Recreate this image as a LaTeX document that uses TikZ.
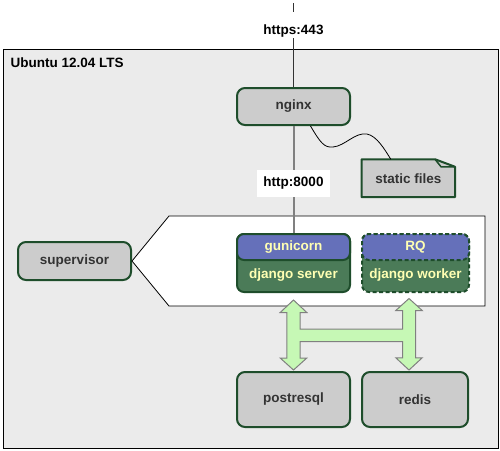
\documentclass[tikz,border=0pt]{standalone}
\usepackage{fontspec}
\setmainfont{Liberation Sans}
\definecolor{boxfill}{HTML}{CCCCCC}
\definecolor{boxborder}{HTML}{1E4D2B}
\definecolor{txtgray}{HTML}{333333}
\definecolor{blu}{HTML}{6570BA}
\definecolor{grn}{HTML}{4B7B58}
\definecolor{ylw}{HTML}{FFFFB3}
\definecolor{arrfill}{HTML}{C6F8B5}
\definecolor{arrborder}{HTML}{808080}
\definecolor{ubg}{HTML}{EBEBEB}
\begin{document}
\begin{tikzpicture}[x=1pt,y=-1pt,
  font=\fontsize{13.5}{16}\selectfont\bfseries,
  graybox/.style={draw=boxborder,line width=2pt,fill=boxfill,rounded corners=8pt,
    text=txtgray,inner sep=0pt,minimum width=#1},
  graybox/.default=113pt,
  bluebox/.style={draw=boxborder,line width=2pt,fill=blu,rounded corners=7pt,
    text=ylw,inner sep=0pt,minimum height=26pt},
  greenbox/.style={draw=boxborder,line width=2pt,fill=grn,rounded corners=7pt,
    text=ylw,inner sep=0pt,minimum height=58pt},
  dashedbox/.style={dash pattern=on 4pt off 2.5pt},
  lbl/.style={fill=white,inner sep=0pt,text=black}
]
\useasboundingbox (0,0) rectangle (500,450);
% Ubuntu box
\draw[fill=ubg,line width=1pt] (3,49) rectangle (498.5,448);
\node[anchor=west,text=black] (ubuntu) at (7,63) {Ubuntu 12.04 LTS};

% nodes
\node[graybox,minimum height=37pt] (nginx) at (293.5,106.5) {nginx};
\node[graybox,minimum height=38pt] (sup) at (74.5,261) {supervisor};

% pentagon (supervisor scope)
\draw[fill=white,line width=0.8pt] (sup.east) -- (169,216) -- (485,216) -- (485,306) -- (169,306) -- cycle;

% static files note
\node[inner sep=0pt,minimum width=93pt,minimum height=37.5pt,text=txtgray] (static) at (408.3,178.2) {};
\draw[draw=boxborder,line width=2pt,fill=boxfill,line join=round]
  (static.north west) -- ([xshift=-20pt]static.north east) -- ([yshift=-7.5pt]static.north east)
  -- (static.south east) -- (static.south west) -- cycle;
\draw[draw=boxborder,line width=1.5pt,line join=round]
  ([xshift=-20pt]static.north east) -- ([xshift=-14pt,yshift=-7.5pt]static.north east) -- ([yshift=-7.5pt]static.north east);
\node[text=txtgray] at (static.center) {static files};

% gunicorn / django server
\node[greenbox,minimum width=113pt] (django) at (293.5,263) {};
\node[text=ylw] at (293.5,275) {django server};
\node[bluebox,minimum width=113pt] (gunicorn) at (293.5,247) {gunicorn};

% RQ / django worker
\node[greenbox,dashedbox,minimum width=107pt] (worker) at (415.5,263) {};
\node[text=ylw] at (415.5,275) {django worker};
\node[bluebox,dashedbox,minimum width=107pt] (rq) at (415.5,247) {RQ};

% databases
\node[graybox,minimum height=55pt] (pg) at (293.5,399.5) {postresql};
\node[graybox=106pt,minimum height=55pt] (redis) at (415,399.5) {redis};

% connectors
\coordinate (top) at (293.5,3);
\draw[line width=1pt,draw=txtgray] (top) -- (nginx.north);
\node[lbl] (https) at (293.5,25) {\rule[-4pt]{0pt}{26pt}https:443};
\draw[line width=2pt,draw=arrborder] (nginx.south) -- (gunicorn.north);
\node[lbl,minimum width=73pt,minimum height=27pt] (http) at (293.5,183) {http:8000};

\draw[line width=0.8pt] ([xshift=17pt]nginx.south) .. controls (320,142) and (324,148) .. (333,147)
  .. controls (345,146) and (355,132) .. (367,134)
  .. controls (377,136) and (385,150) .. ([xshift=-17.5pt]static.north);

% H arrow
\draw[fill=arrfill,draw=arrborder,line width=1pt,line join=miter]
  (293.5,300) -- (306.8,312.5) -- (300.2,312.5) -- (300.2,329) -- (402.5,329) -- (402.5,310.5)
  -- (395.8,310.5) -- (409,298.5) -- (422.2,310.5) -- (415.5,310.5) -- (415.5,357.8)
  -- (422.2,357.8) -- (409,370) -- (395.8,357.8) -- (402.5,357.8) -- (402.5,341.7)
  -- (300.2,341.7) -- (300.2,358) -- (306.8,358) -- (293.5,370) -- (280.2,358)
  -- (286.8,358) -- (286.8,312.5) -- (280.2,312.5) -- cycle;
\end{tikzpicture}
\end{document}
